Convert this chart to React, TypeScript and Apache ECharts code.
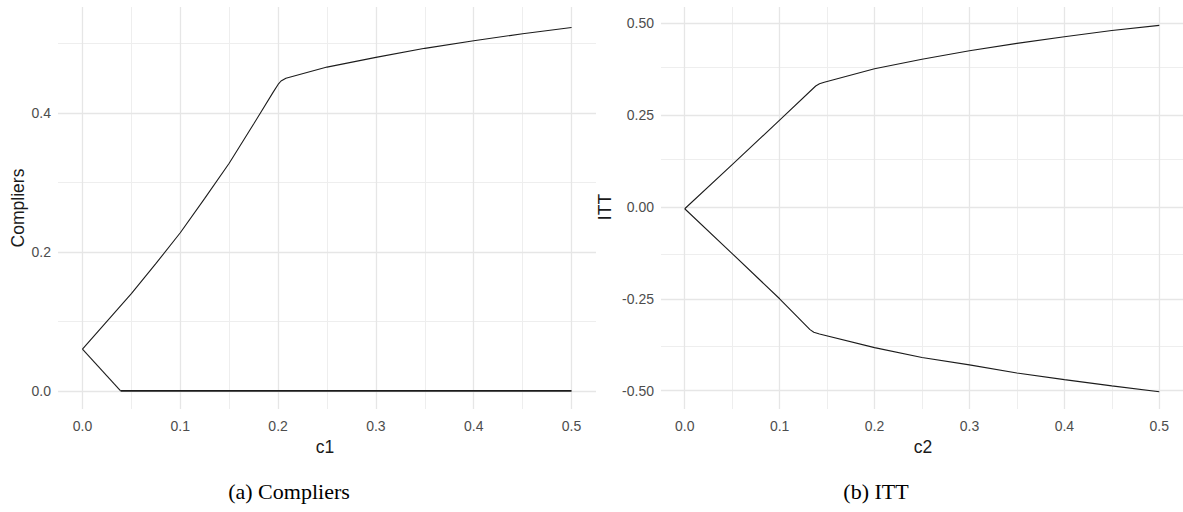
import React, { useEffect, useRef } from "react";
import * as echarts from "echarts";

// Panel (a): bounds on the share of compliers as a function of c1
const c1Upper: [number, number][] = [
  [0, 0.06], [0.025, 0.1], [0.05, 0.14], [0.075, 0.183], [0.1, 0.2275],
  [0.125, 0.277], [0.15, 0.3275], [0.175, 0.384], [0.195, 0.43], [0.2, 0.441],
  [0.203, 0.446], [0.208, 0.45], [0.25, 0.466], [0.3, 0.48], [0.35, 0.493],
  [0.4, 0.504], [0.45, 0.514], [0.5, 0.523],
];
// lower bound: drops from the shared start to zero, then stays at zero
const c1LowerDrop: [number, number][] = [
  [0, 0.06], [0.039, 0],
];
const c1LowerFlat: [number, number][] = [
  [0.039, 0], [0.5, 0],
];

// Panel (b): bounds on the ITT as a function of c2
const c2Upper: [number, number][] = [
  [0, -0.005], [0.05, 0.115], [0.1, 0.236], [0.138, 0.329], [0.142, 0.335],
  [0.147, 0.339], [0.2, 0.376], [0.25, 0.402], [0.3, 0.425], [0.35, 0.445],
  [0.4, 0.463], [0.45, 0.48], [0.5, 0.494],
];
const c2Lower: [number, number][] = [
  [0, -0.005], [0.05, -0.127], [0.1, -0.25], [0.132, -0.334], [0.136, -0.341],
  [0.142, -0.346], [0.2, -0.383], [0.25, -0.41], [0.3, -0.43], [0.35, -0.452],
  [0.4, -0.47], [0.45, -0.487], [0.5, -0.503],
];

const xTicks = [0, 0.1, 0.2, 0.3, 0.4, 0.5];
const xMinor = [0.05, 0.15, 0.25, 0.35, 0.45];
const leftYTicks = [0, 0.2, 0.4];
const leftYMinor = [0.1, 0.3, 0.5];
const rightYTicks = [-0.5, -0.25, 0, 0.25, 0.5];
const rightYMinor = [-0.375, -0.125, 0.125, 0.375];

const GRID_MAJOR = "#e6e6e6";
const GRID_MINOR = "#eeeeee";
const LINE = "#1c1c1c";
const TICK_TEXT = "#4d4d4d";
const SANS = "Liberation Sans, Arial, sans-serif";
const SERIF = `"Liberation Serif", "Times New Roman", serif`;

function gridLines(xs: number[], ys: number[], color: string, width: number) {
  return [
    ...xs.map((v) => ({ xAxis: v, lineStyle: { color, width, type: "solid" as const } })),
    ...ys.map((v) => ({ yAxis: v, lineStyle: { color, width, type: "solid" as const } })),
  ];
}

function gridSeries(idx: number, yMajor: number[], yMinor: number[]) {
  return {
    type: "line" as const,
    xAxisIndex: idx,
    yAxisIndex: idx,
    data: [],
    silent: true,
    z: 0,
    markLine: {
      silent: true,
      symbol: ["none", "none"],
      label: { show: false },
      animation: false,
      data: [
        ...gridLines(xMinor, yMinor, GRID_MINOR, 1),
        ...gridLines(xTicks, yMajor, GRID_MAJOR, 1.3),
      ],
    },
  };
}

function dataSeries(idx: number, data: [number, number][], width: number) {
  return {
    type: "line" as const,
    xAxisIndex: idx,
    yAxisIndex: idx,
    data,
    showSymbol: false,
    symbol: "none",
    z: 5,
    lineStyle: { color: LINE, width },
  };
}

const xAxisBase = (idx: number) => ({
  type: "value" as const,
  gridIndex: idx,
  min: -0.025,
  max: 0.525,
  axisLine: { show: false },
  axisTick: { show: false },
  splitLine: { show: false },
  axisLabel: {
    customValues: xTicks,
    formatter: (v: number) => v.toFixed(1),
    color: TICK_TEXT,
    fontSize: 14,
    fontFamily: SANS,
    margin: 10,
  },
});

const titleText = (x: number, y: number, text: string, vertical = false) => ({
  type: "text" as const,
  x,
  y,
  rotation: vertical ? Math.PI / 2 : 0,
  style: { text, fill: "#1a1a1a", font: `17.5px ${SANS}`, align: "center", verticalAlign: "middle" },
});

const captionText = (x: number, y: number, text: string) => ({
  type: "text" as const,
  x,
  y,
  style: { text, fill: "#000", font: `22px ${SERIF}`, align: "center", verticalAlign: "middle" },
});

export default function App() {
  const ref = useRef<HTMLDivElement>(null);

  useEffect(() => {
    if (!ref.current) return;
    const chart = echarts.init(ref.current, null, { renderer: "svg" });
    chart.setOption({
      animation: false,
      backgroundColor: "#ffffff",
      grid: [
        { left: 58, top: 7, width: 538, height: 402 },
        { left: 661, top: 7, width: 524, height: 402 },
      ],
      xAxis: [xAxisBase(0), xAxisBase(1)],
      yAxis: [
        {
          type: "value",
          gridIndex: 0,
          min: -0.0262,
          max: 0.5525,
          axisLine: { show: false },
          axisTick: { show: false },
          splitLine: { show: false },
          axisLabel: {
            customValues: leftYTicks,
            formatter: (v: number) => v.toFixed(1),
            color: TICK_TEXT,
            fontSize: 14,
            fontFamily: SANS,
            margin: 7,
          },
        },
        {
          type: "value",
          gridIndex: 1,
          min: -0.55,
          max: 0.544,
          axisLine: { show: false },
          axisTick: { show: false },
          splitLine: { show: false },
          axisLabel: {
            customValues: rightYTicks,
            formatter: (v: number) => v.toFixed(2),
            color: TICK_TEXT,
            fontSize: 14,
            fontFamily: SANS,
            margin: 7,
          },
        },
      ],
      series: [
        gridSeries(0, leftYTicks, leftYMinor),
        gridSeries(1, rightYTicks, rightYMinor),
        dataSeries(0, c1Upper, 1.1),
        dataSeries(0, c1LowerDrop, 1.1),
        dataSeries(0, c1LowerFlat, 1.7),
        dataSeries(1, c2Upper, 1.1),
        dataSeries(1, c2Lower, 1.1),
      ],
      graphic: [
        titleText(325, 447, "c1"),
        titleText(923, 447, "c2"),
        titleText(18, 208, "Compliers", true),
        titleText(605, 207, "ITT", true),
        captionText(289, 491, "(a) Compliers"),
        captionText(876, 491, "(b) ITT"),
      ],
    });
    return () => chart.dispose();
  }, []);

  return (
    <div
      ref={ref}
      style={{ position: "fixed", left: 0, top: 0, width: 1183, height: 512, background: "#fff" }}
    />
  );
}
